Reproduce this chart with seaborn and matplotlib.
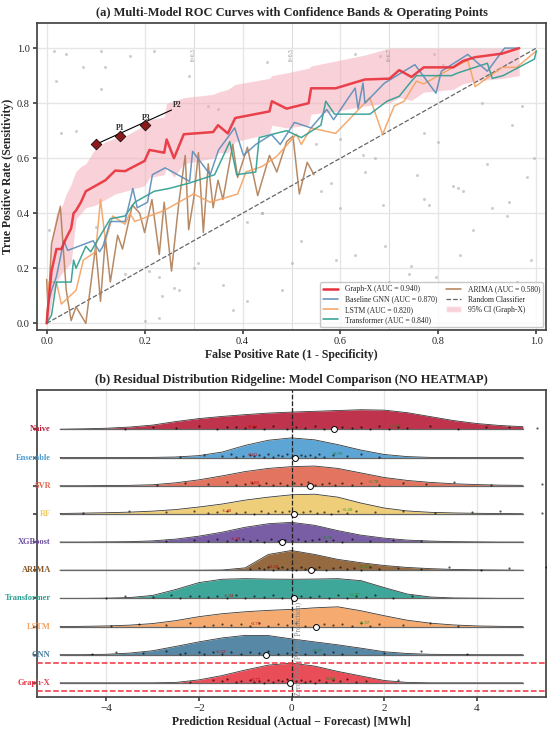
import numpy as np
import matplotlib
matplotlib.use('Agg')
import matplotlib.pyplot as plt
import seaborn as sns
from matplotlib.lines import Line2D
from matplotlib.patches import Patch

# ---------------- (a) ROC data ----------------
gx_fpr = [0, .005, .01, .02, .03, .04, .05, .055, .06, .07, .08, .10, .12, .14, .16, .20, .21, .24, .245, .26, .28,
          .34, .35, .37, .385, .455, .46, .49, .535, .54, .59, .65, .70, .72, .745, .77, .83, .85, .875, .93, .965]
gx_tpr = [0, .10, .19, .27, .27, .31, .345, .40, .41, .44, .48, .50, .52, .555, .553, .59, .63, .62, .668, .60, .687,
          .695, .72, .69, .746, .77, .807, .78, .80, .854, .854, .886, .889, .92, .895, .93, .93, .953, .967, .98, 1.0]
gx_ci_hi = [.05, .20, .30, .40, .42, .47, .505, .53, .553, .57, .58, .637, .66, .673, .68, .72, .74, .75, .80, .807, .82,
            .832, .84, .85, .868, .89, .90, .91, .927, .935, .953, .975, 1.0, 1.0, 1.0, 1.0, 1.0, 1.0, 1.0, 1.0, 1.0]
gx_ci_lo = [0, .02, .08, .15, .18, .20, .22, .30, .38, .40, .42, .43, .45, .47, .48, .50, .53, .54, .57, .53, .58,
            .60, .62, .62, .66, .69, .72, .71, .72, .76, .77, .79, .80, .82, .81, .84, .85, .87, .88, .89, .90]

gnn_fpr = [0, .003, .01, .02, .035, .043, .095, .108, .115, .13, .16, .176, .185, .206, .216, .242, .292, .298, .334, .351,
           .384, .402, .427, .459, .477, .506, .54, .572, .586, .63, .636, .646, .65, .69, .752, .795, .806, .86, .9, .935, .96]
gnn_tpr = [0, .07, .12, .17, .30, .265, .30, .26, .28, .37, .37, .49, .42, .44, .54, .565, .516, .625, .54, .63,
           .71, .61, .65, .686, .65, .73, .71, .777, .74, .855, .78, .873, .80, .873, .94, .836, .916, .977, .916, 1.0, 1.0]

lstm_fpr = [0, .005, .02, .03, .06, .075, .10, .11, .12, .135, .16, .17, .18, .24, .30, .334, .39, .407, .44, .47,
            .51, .52, .54, .59, .62, .66, .686, .71, .73, .755, .77, .83, .86, .875, .93, .96, 1.0]
lstm_tpr = [0, .15, .15, .07, .12, .23, .26, .45, .30, .39, .36, .40, .37, .41, .47, .44, .47, .55, .57, .607,
            .687, .65, .71, .69, .745, .82, .687, .79, .807, .88, .87, .93, .955, .86, .93, .93, .99]

trans_fpr = [0, .01, .02, .05, .055, .06, .08, .09, .13, .16, .18, .20, .22, .25, .292, .343, .374, .388, .427, .434,
             .49, .52, .56, .57, .588, .66, .695, .72, .745, .755, .827, .84, .90, .91, .932, .996, 1.0]
trans_tpr = [0, .03, .15, .15, .23, .20, .28, .26, .38, .39, .44, .46, .48, .49, .51, .54, .66, .54, .55, .675,
             .70, .675, .72, .807, .76, .76, .807, .825, .88, .90, .90, .91, .945, .89, .90, .96, .99]

arima_fpr = [0, .003, .01, .028, .04, .05, .06, .07, .08, .10, .11, .12, .13, .145, .155, .175, .19, .20, .215, .23,
             .24, .255, .27, .283, .29, .30, .31, .32, .33, .34, .35, .36, .38, .39, .41, .431, .455, .47, .49, .503,
             .516, .532, .546]
arima_tpr = [.16, .05, .29, .425, .12, .01, .06, .03, 0.0, .28, .08, .31, .15, .32, .27, .43, .40, .33, .45, .25,
             .44, .19, .44, .61, .34, .45, .62, .33, .58, .42, .52, .45, .65, .53, .64, .464, .61, .55, .66, .68,
             .47, .585, .54]

op_fpr = [0.10, 0.15, 0.20]
op_tpr = [0.65, 0.68, 0.72]
thresholds = [0.3, 0.5, 0.7]

noise_x = [.015, .04, .02, .075, .11, .12, .17, .22, .03, .06, .11, .33, .35, .29, .45, .63, .68, .79, .81, .92,
           .97, .95, .89, .995, .55, .60, .645, .65, .67, .757, .77, .80, .90, .98, .83, .84, .85, .77, .78, .945,
           .91, .94, .87, .845, .99, .63, .59, .745, .74, .795, .70, .686, .60, .58, .56, .44, .005, .10, .21, .23,
           .235, .26, .27, .23, .20, .30, .31, .41, .44, .41, .16, .52, .48, .38, .69, .73, .86, .96, .50, .36]
noise_y = [.99, .98, .88, .93, .99, .93, .97, .99, .69, .70, .85, .79, .78, .90, .95, .98, .97, .98, .94, .92,
           .79, .72, .80, .60, .65, .67, .61, .55, .60, .54, .69, .66, .58, .53, .50, .49, .48, .45, .43, .44,
           .42, .39, .34, .25, .23, .25, .23, .21, .18, .17, .15, .43, .42, .51, .48, .40, .34, .35, .19, .17,
           .10, .13, .12, .02, .01, .20, .22, .37, .40, .08, .18, .30, .12, .05, .28, .07, .10, .15, .22, .14]

# ---------------- (b) ridgeline data ----------------
models = ['Graph-X', 'GNN', 'LSTM', 'Transformer', 'ARIMA', 'XGBoost', 'RF', 'SVR', 'Ensemble', 'Naive']
colors = ['#E63946', '#457B9D', '#F4A261', '#2A9D8F', '#8B5A2B', '#6A4C9C', '#EEC96A', '#E0664F', '#4A9BD0', '#B81D38']
grid_x = [-5, -4.5, -4, -3.5, -3, -2.5, -2, -1.5, -1, -0.5, 0, 0.5, 1, 1.5, 2, 2.5, 3, 3.5, 4, 4.5, 5]
dens = {
    'Graph-X':     [0, 0, 0, 0, 0, .02, .15, .37, .65, .90, 1.0, .85, .58, .35, .12, .02, 0, 0, 0, 0, 0],
    'GNN':         [0, 0, .02, .08, .20, .42, .65, .85, .98, .97, .80, .65, .50, .33, .15, .06, .02, .01, 0, 0, 0],
    'LSTM':        [0, .01, .03, .07, .15, .30, .50, .65, .75, .82, .87, .95, 1.0, .80, .55, .32, .17, .08, .03, .01, 0],
    'Transformer': [0, 0, .01, .04, .15, .45, .80, .97, 1.0, .98, .97, .98, 1.0, .90, .55, .22, .07, .02, .01, 0, 0],
    'ARIMA':       [0, 0, 0, 0, 0, 0, 0, .01, .12, .80, 1.0, .80, .55, .38, .24, .14, .08, .04, .02, .01, 0],
    'XGBoost':     [0, 0, .01, .02, .06, .15, .30, .50, .75, .93, 1.0, .85, .58, .35, .20, .10, .05, .02, .01, 0, 0],
    'RF':          [.02, .04, .06, .09, .14, .22, .35, .50, .70, .85, .97, 1.0, .85, .55, .30, .15, .08, .05, .03, .02, .01],
    'SVR':         [0, 0, .01, .02, .05, .15, .30, .50, .72, .88, .97, 1.0, .88, .65, .42, .27, .17, .10, .06, .03, .02],
    'Ensemble':    [0, 0, 0, 0, .01, .03, .10, .28, .62, .88, 1.0, .90, .66, .38, .16, .05, .01, 0, 0, 0, 0],
    'Naive':       [.01, .03, .06, .12, .22, .40, .55, .66, .75, .83, .88, .92, .96, 1.0, .98, .85, .65, .45, .30, .20, .14],
}
resid_pts = {
    'Graph-X':     [-2.2, -1.7, -1.5, -1.4, -1.2, -1.1, -0.9, -0.8, -0.7, -0.6, -0.5, -0.4, -0.3, -0.2, -0.1, 0.0, 0.1,
                    0.2, 0.3, 0.4, 0.5, 0.6, 0.75, 0.9, 1.05, 1.2, 1.4, 1.6, 2.3],
    'GNN':         [-4.3, -3.8, -3.2, -2.7, -2.4, -2.3, -2.0, -1.9, -1.7, -1.5, -1.3, -1.1, -0.9, -0.7, -0.5, -0.3, -0.1,
                    0.1, 0.3, 0.5, 0.7, 0.9, 1.1, 1.4, 2.0, 2.8, 3.8],
    'LSTM':        [-3.9, -3.3, -2.7, -2.2, -1.9, -1.7, -1.5, -1.3, -1.1, -0.9, -0.7, -0.5, -0.3, -0.1, 0.1, 0.3, 0.5,
                    0.7, 0.9, 1.1, 1.3, 1.5, 1.7, 1.9, 2.4, 3.0, 3.6],
    'Transformer': [-4.0, -3.6, -3.0, -2.6, -2.4, -2.2, -2.0, -1.8, -1.6, -1.4, -1.2, -1.0, -0.8, -0.6, -0.4, -0.2, 0.0,
                    0.2, 0.4, 0.6, 0.8, 1.0, 1.2, 1.4, 1.6, 1.8, 2.2, 2.6],
    'ARIMA':       [-0.9, -0.7, -0.6, -0.5, -0.4, -0.3, -0.2, -0.1, 0.0, 0.1, 0.2, 0.3, 0.4, 0.5, 0.6, 0.75, 0.9, 1.05,
                    1.2, 1.35, 1.5, 1.7, 1.9, 2.3, 2.8, 3.4, 4.1, 4.7, 5.5],
    'XGBoost':     [-2.7, -2.1, -1.8, -1.6, -1.4, -1.2, -1.05, -0.9, -0.75, -0.6, -0.45, -0.3, -0.15, 0.0, 0.15, 0.3,
                    0.45, 0.6, 0.75, 0.9, 1.1, 1.3, 1.7, 2.2, 2.8],
    'RF':          [-4.5, -3.5, -2.7, -2.1, -1.8, -1.6, -1.4, -1.2, -1.0, -0.8, -0.65, -0.5, -0.35, -0.2, -0.05, 0.1, 0.25,
                    0.4, 0.55, 0.7, 0.85, 1.0, 1.2, 1.4, 1.8, 2.4, 3.1, 3.9, 4.5, 5.4],
    'SVR':         [-2.9, -2.3, -1.8, -1.4, -1.2, -1.0, -0.85, -0.7, -0.55, -0.4, -0.25, -0.1, 0.05, 0.2, 0.35, 0.5, 0.65,
                    0.8, 0.95, 1.1, 1.3, 1.5, 1.9, 2.4, 2.9, 3.5, 4.3, 5.4],
    'Ensemble':    [-2.4, -1.9, -1.5, -1.3, -1.2, -1.05, -0.9, -0.8, -0.7, -0.6, -0.5, -0.4, -0.3, -0.2, -0.1, 0.0, 0.1,
                    0.2, 0.3, 0.4, 0.5, 0.6, 0.7, 0.9, 1.2, 1.5, 1.9],
    'Naive':       [-3.6, -3.0, -2.5, -2.0, -1.6, -1.4, -1.2, -1.0, -0.8, -0.6, -0.4, -0.1, 0.1, 0.3, 0.5, 0.7, 0.9, 1.1,
                    1.3, 1.5, 1.7, 1.9, 2.1, 2.3, 2.5, 3.0, 3.6, 4.2, 4.7, 5.3],
}
means = [-0.03, -0.54, 0.53, 0.06, 0.42, -0.20, 0.05, 0.41, 0.07, 0.91]
p10 = [-0.77, -1.52, -0.77, -1.34, -0.39, -1.20, -1.40, -0.80, -0.83, -0.83]
p90 = [0.84, 0.57, 1.57, 1.37, 1.57, 0.78, 1.20, 1.78, 0.99, 2.25]

# ---------------- style ----------------
sns.set_theme(style='whitegrid')
plt.rcParams['font.family'] = ['Liberation Serif', 'DejaVu Serif']
plt.rcParams['axes.edgecolor'] = '#444444'
plt.rcParams['grid.color'] = '#e6e6e6'

fig = plt.figure(figsize=(5.5, 7.29), dpi=100)
ax1 = fig.add_axes([0.067, 0.547, 0.926, 0.421])
ax2 = fig.add_axes([0.067, 0.044, 0.926, 0.421])

# ---- panel (a) ----
sns.scatterplot(x=noise_x, y=noise_y, ax=ax1, color='#b0b0b0', s=5, alpha=0.6, linewidth=0, zorder=1)
for t in thresholds:
    ax1.axvline(t, color='#dddddd', lw=0.8, zorder=0)
    ax1.text(t, 0.975, f'θ={t}', rotation=90, fontsize=4, color='#888888', ha='center', va='center')

ax1.fill_between(gx_fpr, gx_ci_lo, gx_ci_hi, color='#F4A6B4', alpha=0.5, lw=0, zorder=2)
ax1.plot([0, 1], [0, 1], ls='--', color='#666666', lw=0.9, zorder=2)

curves = [
    (arima_fpr, arima_tpr, '#B07D55', 1.1),
    (lstm_fpr, lstm_tpr, '#F4A261', 1.1),
    (trans_fpr, trans_tpr, '#2A9D8F', 1.1),
    (gnn_fpr, gnn_tpr, '#5B8DB8', 1.1),
    (gx_fpr, gx_tpr, '#E8303A', 1.8),
]
for fx, ty, c, lw in curves:
    sns.lineplot(x=fx, y=ty, ax=ax1, color=c, lw=lw, sort=False, estimator=None, alpha=0.9, zorder=3)

ax1.plot([op_fpr[0], 0.255], [op_tpr[0], 0.775], color='black', lw=0.8, zorder=4)
sns.scatterplot(x=op_fpr, y=op_tpr, ax=ax1, marker='D', s=30, color='#8B1A1A', edgecolor='black', linewidth=0.5, zorder=5)
ax1.text(op_fpr[1], op_tpr[1] + 0.015, 'P1', fontsize=5.5, fontweight='bold', ha='center', va='bottom')
ax1.text(op_fpr[2] + 0.003, op_tpr[2] + 0.012, 'P3', fontsize=5.5, fontweight='bold', ha='center', va='bottom')
ax1.text(0.258, 0.778, 'P2', fontsize=5.5, fontweight='bold', ha='left', va='bottom')

ax1.set_xlim(-0.02, 1.02)
ax1.set_ylim(-0.025, 1.09)
ax1.set_xticks(np.arange(0, 1.01, 0.2))
ax1.set_yticks(np.arange(0, 1.01, 0.2))
ax1.tick_params(labelsize=7.5, length=3, pad=2, color='#444444', left=True, bottom=True)
ax1.set_xlabel('False Positive Rate (1 - Specificity)', fontsize=8.5, fontweight='bold', labelpad=2)
ax1.set_ylabel('True Positive Rate (Sensitivity)', fontsize=8.5, fontweight='bold', labelpad=2)
ax1.set_title('(a) Multi-Model ROC Curves with Confidence Bands & Operating Points', fontsize=9, fontweight='bold', pad=5)

handles = [
    Line2D([], [], color='#E8303A', lw=1.8, label='Graph-X (AUC = 0.940)'),
    Line2D([], [], color='#5B8DB8', lw=1.1, label='Baseline GNN (AUC = 0.870)'),
    Line2D([], [], color='#F4A261', lw=1.1, label='LSTM (AUC = 0.820)'),
    Line2D([], [], color='#2A9D8F', lw=1.1, label='Transformer (AUC = 0.840)'),
    Line2D([], [], color='#B07D55', lw=1.1, label='ARIMA (AUC = 0.580)'),
    Line2D([], [], color='#666666', lw=0.9, ls='--', label='Random Classifier'),
    Patch(facecolor='#F4A6B4', alpha=0.5, label='95% CI (Graph-X)'),
]
ax1.legend(handles=handles, loc='lower right', ncol=2, fontsize=5.5, frameon=True, edgecolor='#bbbbbb',
           borderaxespad=0.4, handlelength=2.0, columnspacing=1.2, labelspacing=0.3)

# ---- panel (b) ----
jitter = [0.03, 0.09, 0.05, 0.12, 0.02, 0.07, 0.10, 0.04, 0.08, 0.01, 0.11]
for i, (m, c) in enumerate(zip(models, colors)):
    h = np.array(dens[m]) * 0.7
    ax2.fill_between(grid_x, i, i + h, color=c, alpha=0.9, lw=0, zorder=2 + i * 0.01)
    ax2.plot(grid_x, i + h, color='#3a3a3a', lw=0.6, zorder=3)
    ax2.plot([-5, 5], [i, i], color='#666666', lw=0.9, zorder=3)
    pts = resid_pts[m]
    py = [i + jitter[k % len(jitter)] for k in range(len(pts))]
    sns.scatterplot(x=pts, y=py, ax=ax2, color='black', s=2.5, alpha=0.65, linewidth=0, zorder=4)
    ax2.text(p10[i], i + 0.03, f'{p10[i]:+.2f}', fontsize=3.5, color='#C00000', ha='center', va='bottom', zorder=5)
    ax2.text(p90[i], i + 0.06, f'{p90[i]:+.2f}', fontsize=3.5, color='#1E8B1E', ha='center', va='bottom', zorder=5)
    ax2.scatter([means[i]], [i], s=18, color='white', edgecolor='black', linewidth=0.7, zorder=6)
    ax2.text(-5.2, i, m, color=c, fontsize=6, fontweight='bold', ha='right', va='center', clip_on=False)

ax2.axvline(0, color='#222222', ls='--', lw=0.9, zorder=5)
ax2.text(0.15, -0.45, 'Zero Error (Perfect Prediction)', rotation=90, fontsize=5.5, color='#888888',
         ha='center', va='bottom', zorder=6)
for yl in [-0.3, 0.7]:
    ax2.axhline(yl, color='#F0303C', ls='--', lw=1.1, zorder=5)

ax2.set_xlim(-5.5, 5.5)
ax2.set_ylim(-0.5, 10.4)
ax2.set_xticks([-4, -2, 0, 2, 4])
ax2.set_xticklabels(['\u22124', '\u22122', '0', '2', '4'])
ax2.set_yticks(range(len(models)))
ax2.set_yticklabels([])
ax2.grid(axis='y', visible=False)
ax2.tick_params(labelsize=8, length=3, pad=2, color='#444444', left=True, bottom=True)
ax2.set_xlabel('Prediction Residual (Actual \u2212 Forecast) [MWh]', fontsize=8.5, fontweight='bold', labelpad=2)
ax2.set_title('(b) Residual Distribution Ridgeline: Model Comparison (NO HEATMAP)', fontsize=9, fontweight='bold', pad=5)

fig.savefig('out.png', dpi=100)
